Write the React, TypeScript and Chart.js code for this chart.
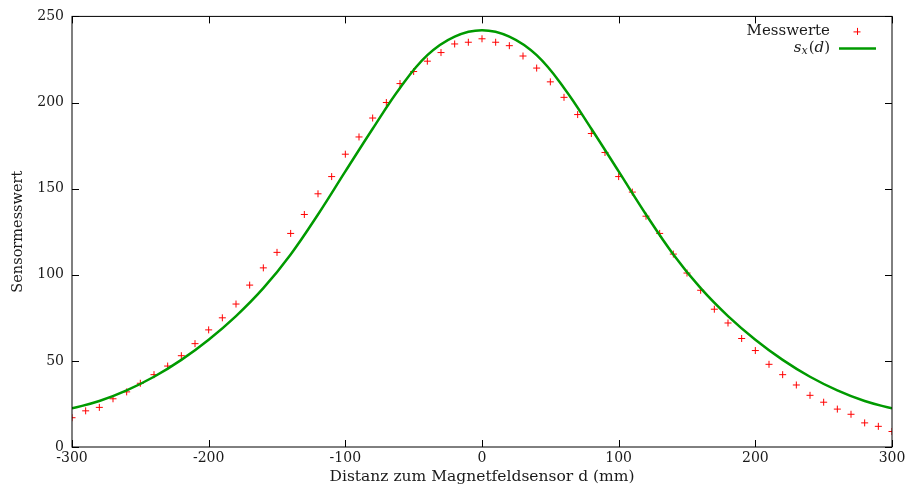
import React, { useEffect, useRef } from 'react';
import { Chart, registerables } from 'chart.js';

Chart.register(...registerables);

// Measured values (Messwerte)
const distances = [
  -300, -290, -280, -270, -260, -250, -240, -230, -220, -210,
  -200, -190, -180, -170, -160, -150, -140, -130, -120, -110,
  -100, -90, -80, -70, -60, -50, -40, -30, -20, -10,
  0, 10, 20, 30, 40, 50, 60, 70, 80, 90,
  100, 110, 120, 130, 140, 150, 160, 170, 180, 190,
  200, 210, 220, 230, 240, 250, 260, 270, 280, 290, 300,
];
const measured = [
  17, 21, 23, 28, 32, 37, 42, 47, 53, 60,
  68, 75, 83, 94, 104, 113, 124, 135, 147, 157,
  170, 180, 191, 200, 211, 218, 224, 229, 234, 235,
  237, 235, 233, 227, 220, 212, 203, 193, 182, 171,
  157, 148, 134, 124, 112, 101, 91, 80, 72, 63,
  56, 48, 42, 36, 30, 26, 22, 19, 14, 12, 9,
];

// Fitted curve s_x(d)
const fitDistances = [
  -300, -280, -260, -240, -220, -200, -180, -160, -140, -120,
  -100, -80, -60, -40, -20, 0, 20, 40, 60, 80,
  100, 120, 140, 160, 180, 200, 220, 240, 260, 280, 300,
];
const fitValues = [
  22.4, 26.7, 32.9, 40.8, 50.6, 62.3, 76.0, 92.2, 111.8, 135.0,
  160.0, 184.8, 208.5, 227.5, 238.3, 242.0, 238.3, 227.5, 208.5, 184.8,
  160.0, 135.0, 111.8, 92.2, 76.0, 62.3, 50.6, 40.8, 32.9, 26.7, 22.4,
];

const xTicks = [-300, -200, -100, 0, 100, 200, 300];
const yTicks = [0, 50, 100, 150, 200, 250];

const FONT = '"DejaVu Serif", serif';
const TEXT = '#1a1a1a';
const RED = '#ff0000';
const GREEN = '#009a00';

const framePlugin = {
  id: 'gnuFrame',
  afterDatasetsDraw(chart: any) {
    const { ctx, chartArea: a, scales } = chart;
    const x = scales.x;
    const y = scales.y;
    ctx.save();
    ctx.strokeStyle = '#000';
    ctx.lineWidth = 1;
    ctx.strokeRect(a.left, a.top, a.right - a.left, a.bottom - a.top);
    const L = 7;
    ctx.beginPath();
    xTicks.forEach((v) => {
      const px = Math.round(x.getPixelForValue(v)) + 0.5;
      ctx.moveTo(px, a.bottom);
      ctx.lineTo(px, a.bottom - L);
      ctx.moveTo(px, a.top);
      ctx.lineTo(px, a.top + L);
    });
    yTicks.forEach((v) => {
      const py = Math.round(y.getPixelForValue(v)) + 0.5;
      ctx.moveTo(a.left, py);
      ctx.lineTo(a.left + L, py);
      ctx.moveTo(a.right, py);
      ctx.lineTo(a.right - L, py);
    });
    ctx.stroke();

    // legend
    const textRight = a.right - 62;
    const row1 = a.top + 15;
    const row2 = a.top + 32;
    ctx.fillStyle = TEXT;
    ctx.textBaseline = 'middle';
    ctx.textAlign = 'right';
    ctx.font = `15px ${FONT}`;
    ctx.fillText('Messwerte', textRight, row1);
    // red cross sample
    const cx = a.right - 35;
    ctx.strokeStyle = RED;
    ctx.lineWidth = 1;
    ctx.beginPath();
    ctx.moveTo(cx - 3.5, row1 + 0.5);
    ctx.lineTo(cx + 3.5, row1 + 0.5);
    ctx.moveTo(cx + 0.5, row1 - 3.5);
    ctx.lineTo(cx + 0.5, row1 + 3.5);
    ctx.stroke();

    // s_x(d)
    const parts = [
      { t: 's', f: `italic 15px ${FONT}`, dy: 0 },
      { t: 'x', f: `italic 11px ${FONT}`, dy: 3 },
      { t: '(', f: `15px ${FONT}`, dy: 0 },
      { t: 'd', f: `italic 15px ${FONT}`, dy: 0 },
      { t: ')', f: `15px ${FONT}`, dy: 0 },
    ];
    let total = 0;
    const widths = parts.map((p) => {
      ctx.font = p.f;
      const w = ctx.measureText(p.t).width;
      total += w;
      return w;
    });
    let px = textRight - total - 1;
    ctx.textAlign = 'left';
    parts.forEach((p, i) => {
      ctx.font = p.f;
      ctx.fillText(p.t, px, row2 + p.dy);
      px += widths[i] + (i === 1 ? 1 : 0);
    });
    ctx.strokeStyle = GREEN;
    ctx.lineWidth = 2.5;
    ctx.beginPath();
    ctx.moveTo(a.right - 53, row2);
    ctx.lineTo(a.right - 16, row2);
    ctx.stroke();
    ctx.restore();
  },
};

export default function App() {
  const canvasRef = useRef<HTMLCanvasElement | null>(null);

  useEffect(() => {
    document.body.style.margin = '0';
    const canvas = canvasRef.current;
    if (!canvas) return;
    const chart = new Chart(canvas, {
      type: 'line',
      data: {
        datasets: [
          {
            label: 's_x(d)',
            data: fitDistances.map((d, i) => ({ x: d, y: fitValues[i] })),
            borderColor: GREEN,
            borderWidth: 2.5,
            pointRadius: 0,
            tension: 0.4,
            fill: false,
            order: 0,
          },
          {
            label: 'Messwerte',
            data: distances.map((d, i) => ({ x: d, y: measured[i] })),
            showLine: false,
            pointStyle: 'cross',
            pointRadius: 3.5,
            pointBorderWidth: 1,
            pointBorderColor: RED,
            pointBackgroundColor: RED,
            borderColor: RED,
            order: 1,
          },
        ],
      },
      options: {
        animation: false,
        responsive: false,
        maintainAspectRatio: false,
        layout: { padding: { top: 16, right: 17, left: 0, bottom: 0 } },
        plugins: {
          legend: { display: false },
          tooltip: { enabled: false },
        },
        scales: {
          x: {
            type: 'linear',
            min: -300,
            max: 300,
            grid: { display: false, drawTicks: false },
            border: { display: false },
            afterFit: (s: any) => {
              s.height = 42;
            },
            afterBuildTicks: (s: any) => {
              s.ticks = xTicks.map((v) => ({ value: v }));
            },
            ticks: {
              color: TEXT,
              font: { family: FONT, size: 14 },
              padding: 3,
              maxRotation: 0,
              autoSkip: false,
            },
            title: {
              display: true,
              text: 'Distanz zum Magnetfeldsensor d (mm)',
              color: TEXT,
              font: { family: FONT, size: 15.5 },
              padding: { top: 0, bottom: 3 },
            },
          },
          y: {
            type: 'linear',
            min: 0,
            max: 250,
            grid: { display: false, drawTicks: false },
            border: { display: false },
            afterFit: (s: any) => {
              s.width = 72;
            },
            afterBuildTicks: (s: any) => {
              s.ticks = yTicks.map((v) => ({ value: v }));
            },
            ticks: {
              color: TEXT,
              font: { family: FONT, size: 14 },
              padding: 8,
              autoSkip: false,
            },
            title: {
              display: true,
              text: 'Sensormesswert',
              color: TEXT,
              font: { family: FONT, size: 14.5 },
              padding: { top: 10, bottom: 0 },
            },
          },
        },
      },
      plugins: [framePlugin],
    } as any);
    return () => chart.destroy();
  }, []);

  return (
    <div style={{ width: 909, height: 489 }}>
      <canvas ref={canvasRef} width={909} height={489} style={{ display: 'block', width: 909, height: 489 }} />
    </div>
  );
}
